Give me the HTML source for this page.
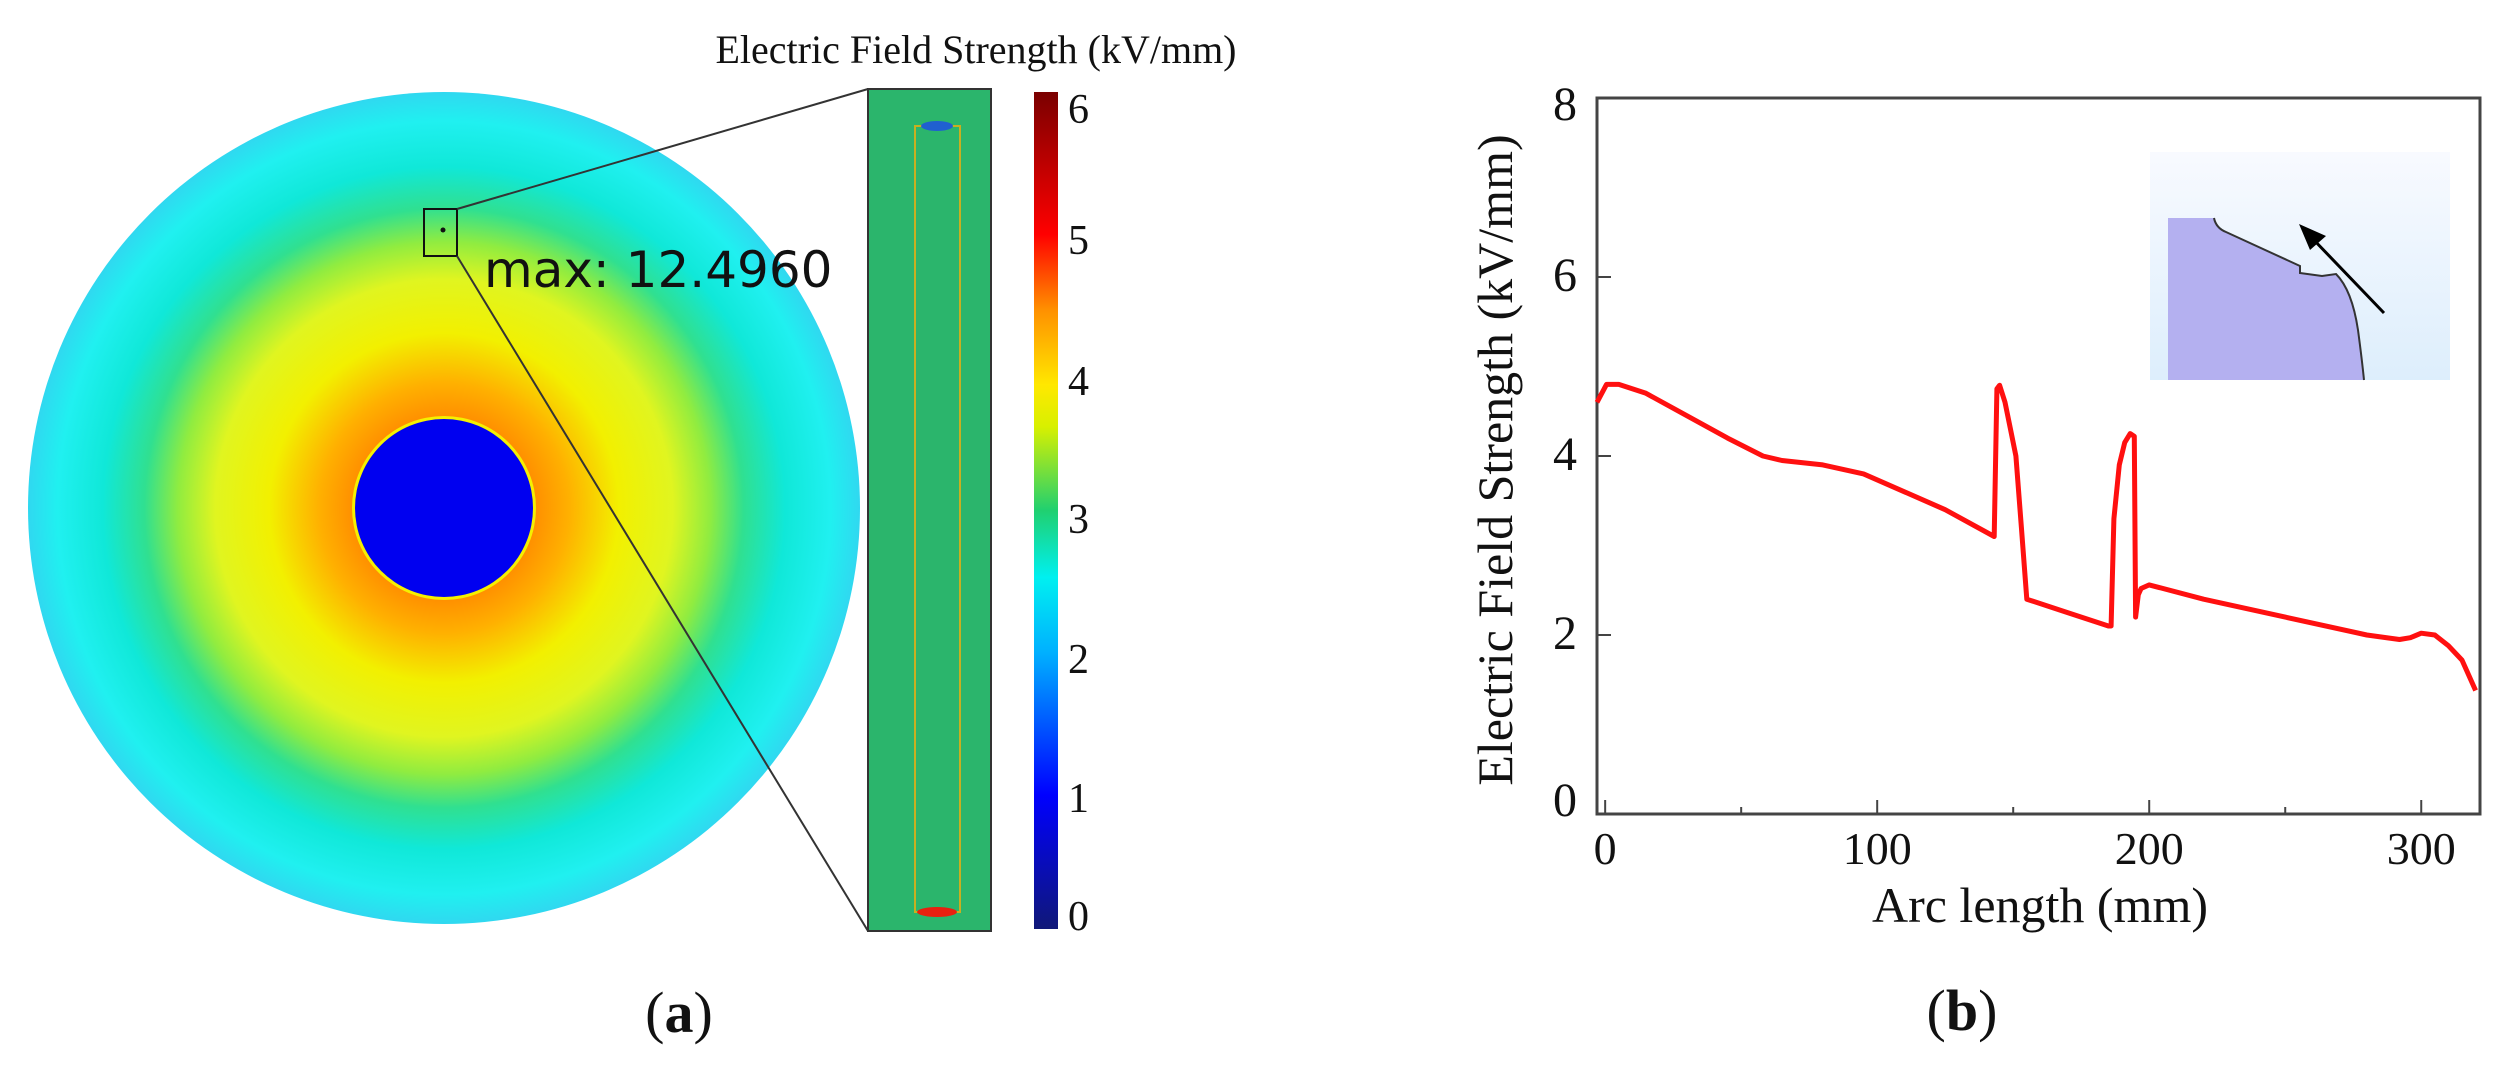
<!DOCTYPE html>
<html><head><meta charset="utf-8"><style>
html,body{margin:0;padding:0;background:#fff;}
svg{display:block;}
</style></head><body>
<svg id="fig" width="2514" height="1065" viewBox="0 0 2514 1065" xmlns="http://www.w3.org/2000/svg">
<defs>
<radialGradient id="diskGrad" cx="444" cy="508" r="416" gradientUnits="userSpaceOnUse">
<stop offset="0.21" stop-color="#ff8c00"/>
<stop offset="0.30" stop-color="#ffb000"/>
<stop offset="0.42" stop-color="#f2f000"/>
<stop offset="0.55" stop-color="#e0f520"/>
<stop offset="0.64" stop-color="#90ec40"/>
<stop offset="0.72" stop-color="#30e090"/>
<stop offset="0.82" stop-color="#10e8d8"/>
<stop offset="0.93" stop-color="#20f0f0"/>
<stop offset="1" stop-color="#30d8f0"/>
</radialGradient>
<linearGradient id="cbGrad" x1="0" y1="1" x2="0" y2="0">
<stop offset="0" stop-color="#101878"/>
<stop offset="0.16" stop-color="#0000ff"/>
<stop offset="0.33" stop-color="#00b0ff"/>
<stop offset="0.42" stop-color="#00f0f0"/>
<stop offset="0.5" stop-color="#20d070"/>
<stop offset="0.6" stop-color="#d8f000"/>
<stop offset="0.65" stop-color="#ffe800"/>
<stop offset="0.74" stop-color="#ff9000"/>
<stop offset="0.83" stop-color="#ff0000"/>
<stop offset="1" stop-color="#7a0000"/>
</linearGradient>
<linearGradient id="insetBg" x1="0" y1="0" x2="0" y2="1">
<stop offset="0" stop-color="#f8faff"/><stop offset="1" stop-color="#ddeefc"/>
</linearGradient>
</defs>

<!-- Panel (a) -->
<g>
<circle cx="444" cy="508" r="416" fill="url(#diskGrad)"/>
<circle cx="444" cy="508" r="92" fill="#f5f000"/>
<circle cx="444" cy="508" r="89" fill="#0000f0"/>
<rect x="424" y="209" width="33" height="47" fill="none" stroke="#111" stroke-width="2"/>
<circle cx="443" cy="230" r="2.5" fill="#111"/>
<line x1="457" y1="209" x2="868" y2="89" stroke="#333" stroke-width="2"/>
<line x1="457" y1="256" x2="868" y2="931" stroke="#333" stroke-width="2"/>
<text x="484" y="287" font-family="DejaVu Sans, sans-serif" font-size="50" fill="#111">max: 12.4960</text>
<rect x="868" y="89" width="123" height="842" fill="#2bb56c" stroke="#333" stroke-width="2"/>
<rect x="915" y="126" width="45" height="786" fill="none" stroke="#c8b020" stroke-width="2"/>
<ellipse cx="937" cy="126" rx="16" ry="5" fill="#2060d0"/>
<ellipse cx="937" cy="912" rx="20" ry="5" fill="#e82010"/>
<rect x="1034" y="92" width="24" height="837" fill="url(#cbGrad)"/>
<g font-family="Liberation Serif, serif" font-size="42" fill="#111">
<text x="1068" y="123">6</text><text x="1068" y="254">5</text><text x="1068" y="395">4</text>
<text x="1068" y="533">3</text><text x="1068" y="673">2</text><text x="1068" y="812">1</text><text x="1068" y="930">0</text>
</g>
<text x="976" y="63" text-anchor="middle" font-family="Liberation Serif, serif" font-size="40" fill="#111">Electric Field Strength (kV/mm)</text>
<text x="679" y="1032" text-anchor="middle" font-family="Liberation Serif, serif" font-size="58" fill="#111">(<tspan font-weight="bold">a</tspan>)</text>
</g>

<!-- Panel (b) -->
<g id="panelB">
<rect x="2150" y="152" width="300" height="228" fill="url(#insetBg)"/>
<path d="M2168,218 L2214,218 Q2216,228 2226,232 L2300,266 L2300,273 L2322,276 L2336,274 Q2352,290 2358,330 Q2362,360 2364,380 L2168,380 Z" fill="#b4b0f0" stroke="none"/>
<path d="M2214,218 Q2216,228 2226,232 L2300,266 L2300,273 L2322,276 L2336,274 Q2352,290 2358,330 Q2362,360 2364,380" fill="none" stroke="#333" stroke-width="2"/>
<line x1="2384" y1="313" x2="2312" y2="238" stroke="#000" stroke-width="3"/>
<polygon points="2299,224 2326,236 2310,250" fill="#000"/>
</g>
</svg>
<script>
const arcLength = [-3, 0.5, 5, 15, 30, 45, 58, 65, 80, 95, 110, 125, 143, 144, 145, 147, 149, 151, 153, 155, 170, 185, 186, 187, 189, 191, 193, 194.5, 195, 196, 197, 200, 220, 250, 280, 292, 296, 300, 305, 310, 315, 320];
const fieldStrength = [4.6, 4.8, 4.8, 4.7, 4.45, 4.2, 4.0, 3.95, 3.9, 3.8, 3.6, 3.4, 3.1, 4.75, 4.79, 4.6, 4.3, 4.0, 3.2, 2.4, 2.25, 2.1, 2.1, 3.3, 3.9, 4.15, 4.25, 4.22, 2.2, 2.45, 2.52, 2.56, 2.4, 2.2, 2.0, 1.95, 1.97, 2.02, 2.0, 1.88, 1.72, 1.38];
const xTicks = [0, 100, 200, 300];
const xMinorTicks = [50, 150, 250];
const yTicks = [0, 2, 4, 6, 8];

const NS = 'http://www.w3.org/2000/svg';
const X0 = 1597, X1 = 2480, Y0 = 814, Y1 = 98;
const xMin = -3, xMax = 321.6, yMin = 0, yMax = 8;
function sx(v){ return X0 + (v - xMin) / (xMax - xMin) * (X1 - X0); }
function sy(v){ return Y0 - (v - yMin) / (yMax - yMin) * (Y0 - Y1); }
const g = document.getElementById('panelB');
function mk(tag, attrs){ const e = document.createElementNS(NS, tag); for (const k in attrs) e.setAttribute(k, attrs[k]); g.appendChild(e); return e; }

const frame = mk('rect', {x:X0, y:Y1, width:X1-X0, height:Y0-Y1, fill:'none', stroke:'#444', 'stroke-width':3});



xTicks.forEach(t => {
  const l = mk('line', {x1:sx(t), x2:sx(t), y1:Y0, y2:Y0-14, stroke:'#444', 'stroke-width':2});
  
  
  const tx = mk('text', {x:sx(t), y:Y0+50, 'text-anchor':'middle', 'font-family':'Liberation Serif, serif', 'font-size':46, fill:'#111'});
  tx.textContent = t;
  
  
});
xMinorTicks.forEach(t => {
  const l = mk('line', {x1:sx(t), x2:sx(t), y1:Y0, y2:Y0-7, stroke:'#444', 'stroke-width':2});
  
  
});
yTicks.forEach(t => {
  const l = mk('line', {x1:X0, x2:X0+14, y1:sy(t), y2:sy(t), stroke:'#444', 'stroke-width':2});
  
  
  const tx = mk('text', {x:X0-20, y:sy(t)+ (t===8 ? 22 : (t===0 ? 2 : 14)), 'text-anchor':'end', 'font-family':'Liberation Serif, serif', 'font-size':48, fill:'#111'});
  tx.textContent = t;
  
  
});

const xt = mk('text', {x:2040, y:922, 'text-anchor':'middle', 'font-family':'Liberation Serif, serif', 'font-size':50, fill:'#111'});
xt.textContent = 'Arc length (mm)';



const yt = mk('text', {x:0, y:0, 'text-anchor':'middle', 'font-family':'Liberation Serif, serif', 'font-size':50, fill:'#111', transform:'translate(1512,460) rotate(-90)'});
yt.textContent = 'Electric Field Strength (kV/mm)';



const pts = arcLength.map((x, i) => sx(x).toFixed(1) + ',' + sy(fieldStrength[i]).toFixed(1)).join(' ');
const line = mk('polyline', {points:pts, fill:'none', stroke:'#ff1010', 'stroke-width':5, 'stroke-linejoin':'round'});



const lb = mk('text', {x:1962, y:1030, 'text-anchor':'middle', 'font-family':'Liberation Serif, serif', 'font-size':58, fill:'#111'});
lb.innerHTML = '(<tspan font-weight="bold">b</tspan>)';


</script>
</body></html>
